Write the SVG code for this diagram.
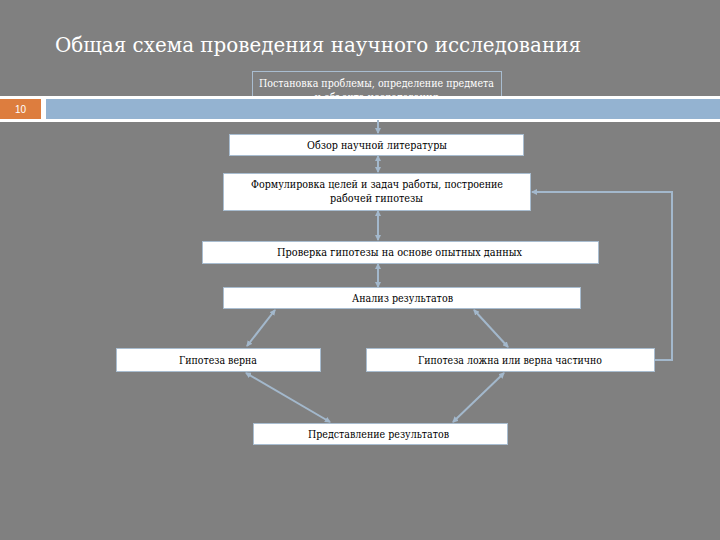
<svg xmlns="http://www.w3.org/2000/svg" width="720" height="540" viewBox="0 0 720 540">
<defs>
<style>
.bg{fill:#808080}
.box{fill:#ffffff;stroke:#a9bdd0;stroke-width:1}
.t{font-family:'DejaVu Serif','Liberation Serif',serif;font-size:10.5px;fill:#000;text-anchor:middle}
.tw{font-family:'DejaVu Serif','Liberation Serif',serif;font-size:10.5px;fill:#ffffff;text-anchor:middle}
.ttl{font-family:'DejaVu Serif','Liberation Serif',serif;font-size:21px;fill:#ffffff}
.c{fill:none;stroke:#a3b8cc;stroke-width:2}
</style>
<marker id="ah" viewBox="0 0 6 6" refX="5" refY="3" markerWidth="3" markerHeight="3" orient="auto-start-reverse">
<path d="M0,0 L6,3 L0,6 Z" fill="#a3b8cc"/>
</marker>
</defs>
<rect class="bg" x="0" y="0" width="720" height="540"/>
<text class="ttl" x="55" y="52" textLength="526" lengthAdjust="spacingAndGlyphs">Общая схема проведения научного исследования</text>
<g id="n0">
<rect x="252.5" y="71.5" width="249" height="30" fill="none" stroke="#a9bdd0" stroke-width="1"/>
<text class="tw" x="376.5" y="87" textLength="235" lengthAdjust="spacingAndGlyphs">Постановка проблемы, определение предмета</text>
<text class="tw" x="376.5" y="101" textLength="124" lengthAdjust="spacingAndGlyphs">и объекта исследования</text>
</g>
<g id="band">
<rect x="0" y="96" width="720" height="26" fill="#ffffff"/>
<rect x="0" y="99" width="41" height="20" fill="#dd7d3e"/>
<rect x="46" y="99" width="674" height="20" fill="#94b3d1"/>
<text x="20.5" y="113" font-family="'Liberation Sans',Arial,sans-serif" font-size="10" fill="#ffffff" text-anchor="middle">10</text>
</g>
<g id="connectors">
<line class="c" x1="378" y1="120" x2="378" y2="133" marker-end="url(#ah)"/>
<line class="c" x1="378" y1="156" x2="378" y2="172" marker-start="url(#ah)" marker-end="url(#ah)"/>
<line class="c" x1="378" y1="211" x2="378" y2="240" marker-start="url(#ah)" marker-end="url(#ah)"/>
<line class="c" x1="378" y1="264" x2="378" y2="287" marker-start="url(#ah)" marker-end="url(#ah)"/>
<line class="c" x1="275" y1="310" x2="247" y2="346" marker-start="url(#ah)" marker-end="url(#ah)"/>
<line class="c" x1="474" y1="310" x2="508" y2="347" marker-start="url(#ah)" marker-end="url(#ah)"/>
<line class="c" x1="246" y1="373" x2="330" y2="422" marker-start="url(#ah)" marker-end="url(#ah)"/>
<line class="c" x1="504" y1="373" x2="453" y2="422" marker-start="url(#ah)" marker-end="url(#ah)"/>
<path class="c" d="M655,360 H672 V192 H532" marker-end="url(#ah)"/>
</g>
<g id="n1">
<rect class="box" x="229.5" y="134.5" width="294" height="21"/>
<text class="t" x="377" y="149" textLength="140" lengthAdjust="spacingAndGlyphs">Обзор научной литературы</text>
</g>
<g id="n2">
<rect class="box" x="223.5" y="173.5" width="307" height="37"/>
<text class="t" x="377" y="188" textLength="252" lengthAdjust="spacingAndGlyphs">Формулировка целей и задач работы, построение</text>
<text class="t" x="376.5" y="202" textLength="93" lengthAdjust="spacingAndGlyphs">рабочей гипотезы</text>
</g>
<g id="n3">
<rect class="box" x="202.5" y="241.5" width="396" height="22"/>
<text class="t" x="399.5" y="256" textLength="245" lengthAdjust="spacingAndGlyphs">Проверка гипотезы на основе  опытных данных</text>
</g>
<g id="n4">
<rect class="box" x="223.5" y="287.5" width="357" height="21"/>
<text class="t" x="402.5" y="302" textLength="101" lengthAdjust="spacingAndGlyphs">Анализ результатов</text>
</g>
<g id="n5">
<rect class="box" x="116.5" y="348.5" width="204" height="23"/>
<text class="t" x="218" y="364" textLength="78" lengthAdjust="spacingAndGlyphs">Гипотеза верна</text>
</g>
<g id="n6">
<rect class="box" x="366.5" y="348.5" width="288" height="23"/>
<text class="t" x="510" y="364" textLength="184" lengthAdjust="spacingAndGlyphs">Гипотеза ложна или верна частично</text>
</g>
<g id="n7">
<rect class="box" x="253.5" y="423.5" width="254" height="21"/>
<text class="t" x="378.5" y="438" textLength="141" lengthAdjust="spacingAndGlyphs">Представление результатов</text>
</g>
</svg>
